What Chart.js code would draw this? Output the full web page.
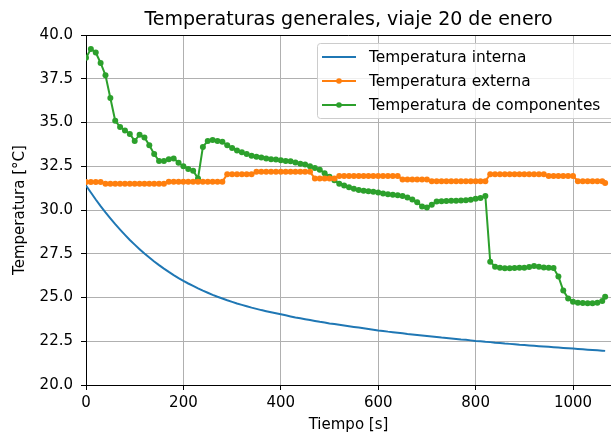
<!DOCTYPE html>
<html>
<head>
<meta charset="utf-8">
<script src="https://cdn.jsdelivr.net/npm/chart.js@4/dist/chart.umd.min.js"></script>
<style>
  body { margin: 0; background: #fff; overflow: hidden; }
  #wrap { width: 611px; height: 440px; position: relative; }
</style>
</head>
<body>
<div id="wrap"><canvas id="tempChart"></canvas></div>
<script>
// Datos (tiempo en s, temperaturas en °C)
const tiempo = [0,10,20,30,40,50,60,70,80,90,100,110,120,130,140,150,160,170,180,190,
  200,210,220,230,240,250,260,270,280,290,300,310,320,330,340,350,360,370,380,390,
  400,410,420,430,440,450,460,470,480,490,500,510,520,530,540,550,560,570,580,590,
  600,610,620,630,640,650,660,670,680,690,700,710,720,730,740,750,760,770,780,790,
  800,810,820,830,840,850,860,870,880,890,900,910,920,930,940,950,960,970,980,990,
  1000,1010,1020,1030,1040,1050,1060,1066];

const tempInterna = [31.40,31.00,30.60,30.22,29.86,29.52,29.19,28.88,28.58,28.29,
  28.02,27.76,27.51,27.28,27.06,26.85,26.65,26.46,26.28,26.11,
  25.95,25.80,25.66,25.52,25.39,25.27,25.15,25.04,24.94,24.84,
  24.75,24.66,24.58,24.50,24.42,24.35,24.28,24.22,24.16,24.10,
  24.04,23.98,23.92,23.86,23.81,23.76,23.71,23.66,23.61,23.57,
  23.52,23.48,23.44,23.40,23.36,23.32,23.28,23.24,23.20,23.16,
  23.12,23.09,23.05,23.02,22.99,22.96,22.92,22.89,22.86,22.83,
  22.80,22.77,22.74,22.71,22.69,22.66,22.63,22.60,22.58,22.55,
  22.52,22.50,22.47,22.45,22.42,22.40,22.37,22.35,22.33,22.30,
  22.28,22.26,22.24,22.22,22.20,22.18,22.16,22.14,22.12,22.10,
  22.08,22.06,22.04,22.02,22.00,21.98,21.96,21.95];

const tempExterna = [31.6,31.6,31.6,31.6,31.5,31.5,31.5,31.5,31.5,31.5,
  31.5,31.5,31.5,31.5,31.5,31.5,31.5,31.62,31.62,31.62,
  31.62,31.62,31.62,31.62,31.62,31.62,31.62,31.62,31.62,32.05,
  32.05,32.05,32.05,32.05,32.05,32.18,32.18,32.18,32.18,32.18,
  32.18,32.18,32.18,32.18,32.18,32.18,32.18,31.8,31.8,31.8,
  31.8,31.8,31.95,31.95,31.95,31.95,31.95,31.95,31.95,31.95,
  31.95,31.95,31.95,31.95,31.95,31.75,31.75,31.75,31.75,31.75,
  31.75,31.65,31.65,31.65,31.65,31.65,31.65,31.65,31.65,31.65,
  31.65,31.65,31.65,32.05,32.05,32.05,32.05,32.05,32.05,32.05,
  32.05,32.05,32.05,32.05,32.05,31.95,31.95,31.95,31.95,31.95,
  31.95,31.65,31.65,31.65,31.65,31.65,31.65,31.55];

const tempComponentes = [38.7,39.2,39.0,38.4,37.7,36.4,35.1,34.75,34.55,34.35,
  33.95,34.3,34.15,33.7,33.2,32.8,32.8,32.9,32.95,32.7,
  32.5,32.35,32.25,31.8,33.6,33.95,34.0,33.95,33.9,33.7,
  33.55,33.4,33.3,33.2,33.1,33.05,33.0,32.95,32.9,32.88,
  32.85,32.8,32.78,32.72,32.65,32.6,32.5,32.4,32.3,32.1,
  31.9,31.7,31.5,31.4,31.3,31.22,31.15,31.1,31.07,31.05,
  31.0,30.95,30.9,30.87,30.85,30.8,30.72,30.6,30.45,30.2,
  30.15,30.3,30.48,30.5,30.52,30.53,30.53,30.55,30.56,30.58,
  30.65,30.68,30.8,27.05,26.76,26.7,26.67,26.67,26.68,26.7,
  26.7,26.74,26.8,26.76,26.72,26.7,26.68,26.2,25.4,24.95,
  24.76,24.7,24.68,24.67,24.67,24.7,24.8,25.05];

const series = [
  { label: 'Temperatura interna', values: tempInterna, color: '#1f77b4', marker: false },
  { label: 'Temperatura externa', values: tempExterna, color: '#ff7f0e', marker: true },
  { label: 'Temperatura de componentes', values: tempComponentes, color: '#2ca02c', marker: true }
];

const FONT = 'DejaVu Sans';
Chart.defaults.font.family = FONT;
Chart.defaults.font.size = 15;
Chart.defaults.color = '#000';

const toPoints = vals => vals.map((v, i) => ({ x: tiempo[i], y: v }));

// Titulo, marco superior y leyenda dentro del area
const extrasPlugin = {
  id: 'extras',
  afterDraw(chart) {
    const { ctx, chartArea } = chart;
    ctx.save();
    // marco superior
    ctx.strokeStyle = '#000';
    ctx.lineWidth = 1;
    ctx.beginPath();
    ctx.moveTo(chartArea.left, chartArea.top + 0.5);
    ctx.lineTo(chartArea.right, chartArea.top + 0.5);
    ctx.stroke();

    // titulo
    ctx.font = '19px ' + FONT;
    ctx.fillStyle = '#000';
    ctx.textAlign = 'center';
    ctx.textBaseline = 'alphabetic';
    ctx.fillText('Temperaturas generales, viaje 20 de enero', (chartArea.left + chartArea.right) / 2, 25);

    // leyenda
    const bx = 317, by = 43, bw = 330, bh = 75;
    ctx.fillStyle = 'rgba(255,255,255,0.8)';
    ctx.strokeStyle = '#cccccc';
    ctx.beginPath();
    ctx.roundRect(bx + 0.5, by + 0.5, bw, bh, 3);
    ctx.fill();
    ctx.stroke();
    ctx.font = '15.4px ' + FONT;
    ctx.textAlign = 'left';
    ctx.textBaseline = 'middle';
    series.forEach((s, i) => {
      const y = 57 + i * 24;
      ctx.strokeStyle = s.color;
      ctx.lineWidth = 2;
      ctx.beginPath();
      ctx.moveTo(322, y);
      ctx.lineTo(356, y);
      ctx.stroke();
      if (s.marker) {
        ctx.fillStyle = s.color;
        ctx.beginPath();
        ctx.arc(339, y, 2.8, 0, 2 * Math.PI);
        ctx.fill();
      }
      ctx.fillStyle = '#000';
      ctx.fillText(s.label, 369, y + 1);
    });
    ctx.restore();
  }
};

new Chart(document.getElementById('tempChart'), {
  type: 'line',
  data: {
    datasets: series.map(s => ({
      label: s.label,
      data: toPoints(s.values),
      borderColor: s.color,
      backgroundColor: s.color,
      borderWidth: 2,
      pointRadius: s.marker ? 3 : 0,
      pointBorderWidth: 0,
      pointBackgroundColor: s.color,
      tension: 0,
      fill: false
    }))
  },
  options: {
    responsive: true,
    maintainAspectRatio: false,
    devicePixelRatio: 1,
    animation: false,
    layout: { autoPadding: false, padding: { left: 0, top: 35, right: 0, bottom: 0 } },
    plugins: {
      legend: { display: false },
      tooltip: { enabled: false },
      title: { display: false }
    },
    scales: {
      x: {
        type: 'linear',
        min: 0,
        max: 1078,
        afterFit: s => { s.height = 55; s.paddingRight = 0; s.paddingLeft = 0; },
        border: { color: '#000', width: 1 },
        grid: { color: '#b0b0b0', lineWidth: 1, tickLength: 5, tickColor: '#000' },
        ticks: { stepSize: 200, includeBounds: false, padding: 4, maxRotation: 0, color: '#000', callback: v => String(v) },
        title: { display: true, text: 'Tiempo [s]', padding: { top: 0, bottom: 6 }, color: '#000' }
      },
      y: {
        min: 20,
        max: 40,
        afterFit: s => { s.width = 86; s.paddingTop = 0; s.paddingBottom = 0; },
        border: { color: '#000', width: 1 },
        grid: { color: '#b0b0b0', lineWidth: 1, tickLength: 5, tickColor: '#000' },
        ticks: { stepSize: 2.5, padding: 8, color: '#000', callback: v => v.toFixed(1) },
        title: { display: true, text: 'Temperatura [°C]', padding: { top: 11, bottom: 0 }, color: '#000' }
      }
    }
  },
  plugins: [extrasPlugin]
});
</script>
</body>
</html>
